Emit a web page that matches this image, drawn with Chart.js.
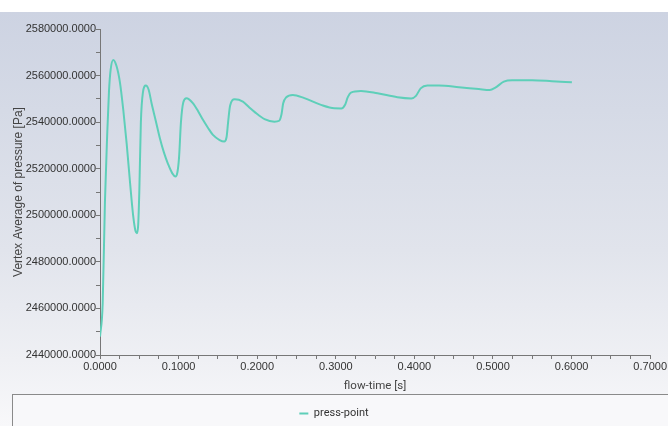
<!DOCTYPE html>
<html>
<head>
<meta charset="utf-8">
<script src="https://cdn.jsdelivr.net/npm/chart.js@4.4.1/dist/chart.umd.min.js"></script>
<style>
    html, body { margin: 0; padding: 0; background: #fff; }
    #wrap {
        position: relative;
        width: 668px;
        height: 426px;
        overflow: hidden;
        background: linear-gradient(to bottom, #ffffff 0px, #ffffff 12px, #cdd3e2 12px, #d5dae6 110px, #e1e4ec 250px, #eff0f4 360px, #f8f8fa 426px);
    }
    canvas { display: block; }
</style>
</head>
<body>
<div id="wrap"><canvas id="chartCanvas" width="668" height="426"></canvas></div>
<script>
// flow-time [s]
const flowTime = [
    0.0000, 0.0034, 0.0063, 0.0093, 0.0114, 0.0135, 0.0169, 0.0211, 0.0254, 0.0297,
    0.0339, 0.0381, 0.0423, 0.0452, 0.0470, 0.0486, 0.0500, 0.0520, 0.0545, 0.0584,
    0.0620, 0.0656, 0.0710, 0.0761, 0.0813, 0.0866, 0.0920, 0.0960, 0.0985, 0.1006,
    0.1030, 0.1060, 0.1100, 0.1184, 0.1250, 0.1310, 0.1375, 0.1437, 0.1522, 0.1580,
    0.1610, 0.1630, 0.1655, 0.1713, 0.1818, 0.1900, 0.1966, 0.2093, 0.2220, 0.2280,
    0.2310, 0.2330, 0.2370, 0.2453, 0.2600, 0.2812, 0.2981, 0.3070, 0.3120, 0.3150,
    0.3193, 0.3320, 0.3531, 0.3784, 0.3960, 0.4020, 0.4080, 0.4165, 0.4313, 0.4567,
    0.4820, 0.4960, 0.5030, 0.5138, 0.5243, 0.5497, 0.5750, 0.6004
];

// Vertex Average of pressure [Pa]
const pressPoint = [
    2447900, 2462000, 2506000, 2536000, 2553000, 2562400, 2566700, 2564000, 2557000, 2545000,
    2530900, 2514500, 2499500, 2493200, 2492300, 2496000, 2510000, 2540000, 2552500, 2555700,
    2553800, 2548100, 2540500, 2533200, 2527000, 2522000, 2518000, 2516700, 2518500, 2525000,
    2540000, 2548500, 2550300, 2548100, 2544600, 2541000, 2537500, 2534500, 2532300, 2531700,
    2533500, 2540000, 2547000, 2549800, 2548800, 2546300, 2544400, 2541300, 2540200, 2540600,
    2543500, 2548000, 2550700, 2551700, 2550300, 2547400, 2545950, 2545900, 2547600, 2550500,
    2552700, 2553400, 2552400, 2550700, 2550200, 2551300, 2554500, 2555700, 2555700, 2555000,
    2554200, 2553800, 2554800, 2557400, 2558000, 2558000, 2557600, 2557100
];

// Etiquetas principales de los ejes
const xTickLabels = [0.0, 0.1, 0.2, 0.3, 0.4, 0.5, 0.6, 0.7];
const yTickLabels = [2440000, 2460000, 2480000, 2500000, 2520000, 2540000, 2560000, 2580000];
const xMinorPerMajor = 4;
const yMinorPerMajor = 2;

const seriesName = 'press-point';
const lineColor = '#5ecfb9';

// Construye ticks principales + secundarios a partir de las etiquetas
function withMinors(majors, parts) {
    const out = [];
    for (let i = 0; i < majors.length; i++) {
        out.push({ value: majors[i] });
        if (i < majors.length - 1) {
            const step = (majors[i + 1] - majors[i]) / parts;
            for (let k = 1; k < parts; k++) out.push({ value: majors[i] + step * k });
        }
    }
    return out;
}

function isMajor(value, majors) {
    return majors.some(m => Math.abs(m - value) < 1e-9 * Math.max(1, Math.abs(m)));
}

// Marco de la leyenda
const legendFrame = {
    id: 'legendFrame',
    beforeDraw(chart) {
        const ctx = chart.ctx;
        const top = Math.round(chart.legend.top - 8) + 0.5;
        ctx.save();
        ctx.fillStyle = '#f8f8fa';
        ctx.fillRect(12, top, chart.width, chart.height);
        ctx.strokeStyle = '#8a8a8a';
        ctx.lineWidth = 1;
        ctx.strokeRect(12.5, top, chart.width + 10, chart.height + 10);
        ctx.restore();
    }
};

const ctx = document.getElementById('chartCanvas').getContext('2d');
const chart = new Chart(ctx, {
    type: 'line',
    data: {
        datasets: [{
            label: seriesName,
            data: flowTime.map((t, i) => ({ x: t, y: pressPoint[i] })),
            borderColor: lineColor,
            backgroundColor: lineColor,
            borderWidth: 2,
            pointRadius: 0,
            cubicInterpolationMode: 'monotone',
            fill: false
        }]
    },
    options: {
        responsive: false,
        animation: false,
        layout: { padding: { top: 29, left: 0, right: 0, bottom: -3 } },
        plugins: {
            tooltip: { enabled: false },
            legend: {
                position: 'bottom',
                align: 'center',
                labels: {
                    usePointStyle: true,
                    pointStyle: 'line',
                    pointStyleWidth: 9,
                    padding: 6,
                    color: '#333',
                    font: { family: 'Roboto, "Liberation Sans", Arial', size: 11 }
                }
            }
        },
        scales: {
            x: {
                type: 'linear',
                min: xTickLabels[0],
                max: xTickLabels[xTickLabels.length - 1],
                afterBuildTicks: scale => { scale.ticks = withMinors(xTickLabels, xMinorPerMajor); },
                afterFit: scale => { scale.height = 47; },
                grid: { drawOnChartArea: false, drawTicks: true, tickLength: 4, tickColor: '#777' },
                border: { display: true, color: '#777', width: 1 },
                ticks: {
                    autoSkip: false,
                    maxRotation: 0,
                    padding: 1,
                    color: '#333',
                    font: { family: '"Liberation Sans", Arial', size: 11 },
                    callback: v => isMajor(v, xTickLabels) ? v.toFixed(4) : ''
                },
                title: {
                    display: true,
                    text: 'flow-time [s]',
                    color: '#444',
                    padding: { top: 0, bottom: 9 },
                    font: { family: 'Roboto, "Liberation Sans", Arial', size: 11.5 }
                }
            },
            y: {
                min: yTickLabels[0],
                max: yTickLabels[yTickLabels.length - 1],
                afterBuildTicks: scale => { scale.ticks = withMinors(yTickLabels, yMinorPerMajor); },
                afterFit: scale => { scale.width = 100; },
                grid: { drawOnChartArea: false, drawTicks: true, tickLength: 4, tickColor: '#777' },
                border: { display: true, color: '#777', width: 1 },
                ticks: {
                    autoSkip: false,
                    padding: 0,
                    color: '#333',
                    font: { family: '"Liberation Sans", Arial', size: 11 },
                    callback: v => isMajor(v, yTickLabels) ? v.toFixed(4) : ''
                },
                title: {
                    display: true,
                    text: 'Vertex Average of pressure [Pa]',
                    color: '#444',
                    padding: { top: 11, bottom: 0 },
                    font: { family: '"Liberation Sans", Arial', size: 12 }
                }
            }
        }
    },
    plugins: [legendFrame]
});
</script>
</body>
</html>
